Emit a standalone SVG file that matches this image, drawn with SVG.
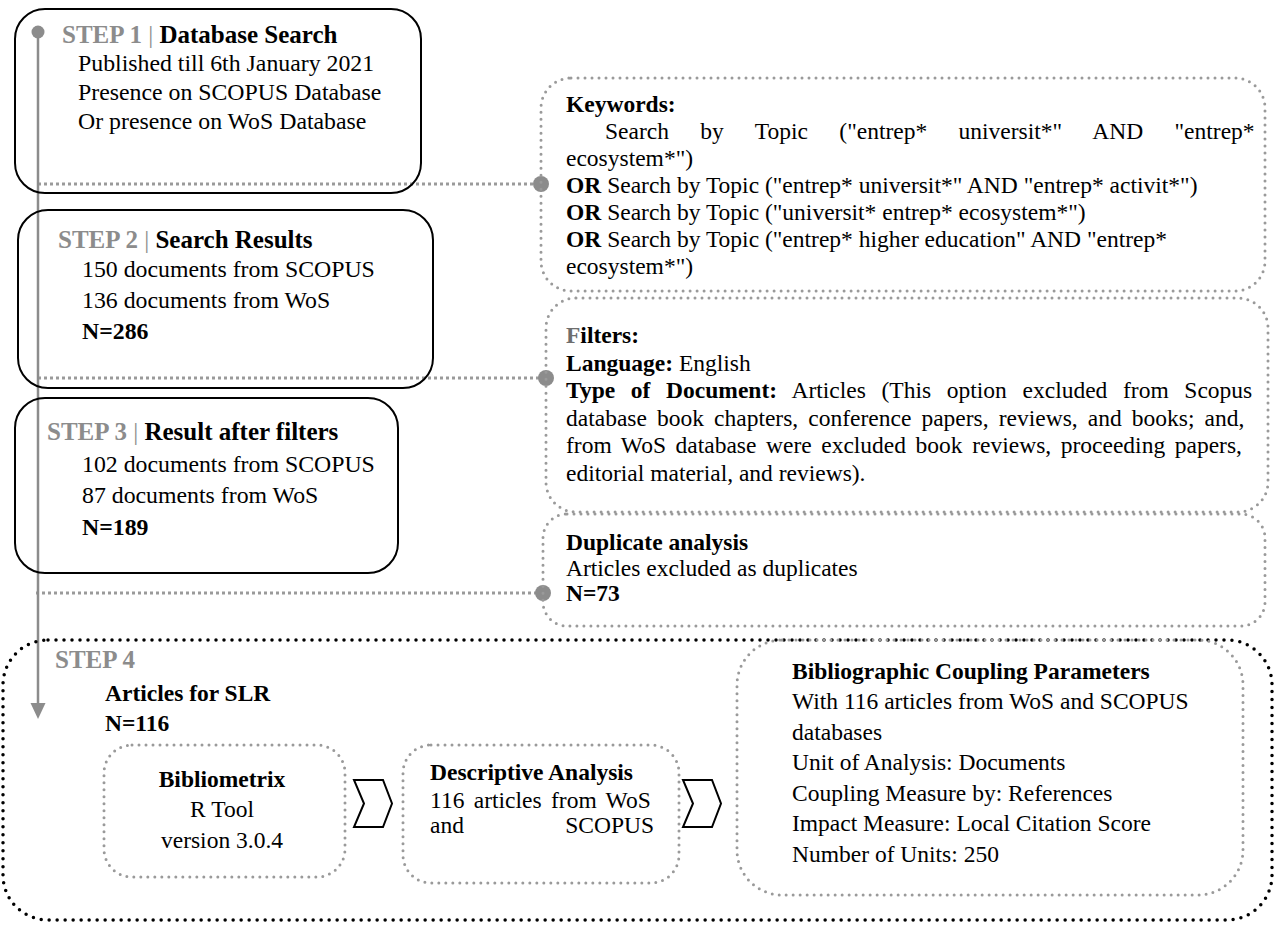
<svg xmlns="http://www.w3.org/2000/svg" width="1275" height="926" viewBox="0 0 1275 926">
  <style>
    text { font-family: "Liberation Serif", "Times New Roman", serif; fill: #000; }
    .body { font-size: 23.8px; }
    .rbody { font-size: 23.5px; }
    .title { font-size: 25px; }
    .step { font-weight: bold; fill: #8c8c8c; }
    .bar { font-weight: normal; fill: #8c8c8c; }
    .b { font-weight: bold; }
    .solid { fill: none; stroke: #000; stroke-width: 2; }
    .gdot { fill: none; stroke: #9a9a9a; stroke-width: 3; stroke-linecap: round; stroke-dasharray: 0 7; }
    .kdot { fill: none; stroke: #000; stroke-width: 3.5; stroke-linecap: round; stroke-dasharray: 0 8; }
    .link { fill: none; stroke: #9a9a9a; stroke-width: 3; stroke-dasharray: 3 3; }
    .spine { fill: none; stroke: #8c8c8c; stroke-width: 2.5; }
    .knob { fill: #8c8c8c; }
    .chev { fill: #fff; stroke: #000; stroke-width: 2; stroke-linejoin: miter; }
  </style>

  <!-- connectors: timeline spine and dotted links to the side panels -->
  <g id="connectors">
    <line class="link" x1="38" y1="184" x2="541" y2="184"/>
    <line class="link" x1="38" y1="378" x2="546" y2="378"/>
    <line class="link" x1="36" y1="593" x2="543" y2="593"/>
    <line class="spine" x1="38" y1="32" x2="38" y2="706"/>
    <polygon class="knob" points="30.5,703 45.5,703 38,719"/>
    <circle class="knob" cx="38" cy="32" r="6.5"/>
    <circle class="knob" cx="541" cy="184" r="8"/>
    <circle class="knob" cx="546" cy="378" r="8"/>
    <circle class="knob" cx="543" cy="593" r="8"/>
  </g>

  <!-- step 1 -->
  <g id="step1">
    <rect class="solid" x="15" y="9" width="406" height="184" rx="30"/>
    <text class="title" x="62" y="43"><tspan class="step">STEP 1 </tspan><tspan class="bar">| </tspan><tspan class="b">Database Search</tspan></text>
    <text class="body" x="78" y="71">Published till 6th January 2021</text>
    <text class="body" x="78" y="100">Presence on SCOPUS Database</text>
    <text class="body" x="78" y="129">Or presence on WoS Database</text>
  </g>

  <!-- step 2 -->
  <g id="step2">
    <rect class="solid" x="18" y="210" width="415" height="178" rx="30"/>
    <text class="title" x="58" y="248"><tspan class="step">STEP 2 </tspan><tspan class="bar">| </tspan><tspan class="b">Search Results</tspan></text>
    <text class="body" x="82" y="277">150 documents from SCOPUS</text>
    <text class="body" x="82" y="308">136 documents from WoS</text>
    <text class="body b" x="82" y="339">N=286</text>
  </g>

  <!-- step 3 -->
  <g id="step3">
    <rect class="solid" x="15" y="398" width="383" height="175" rx="30"/>
    <text class="title" x="47" y="440"><tspan class="step">STEP 3 </tspan><tspan class="bar">| </tspan><tspan class="b">Result after filters</tspan></text>
    <text class="body" x="82" y="472">102 documents from SCOPUS</text>
    <text class="body" x="82" y="503">87 documents from WoS</text>
    <text class="body b" x="82" y="535">N=189</text>
  </g>

  <!-- keywords panel -->
  <g id="keywords">
    <rect class="gdot" x="541" y="78" width="724" height="213" rx="30"/>
    <text class="rbody b" x="566" y="112">Keywords:</text>
    <text class="rbody" x="605" y="139" word-spacing="25.5">Search by Topic ("entrep* universit*" AND "entrep*</text>
    <text class="rbody" x="566" y="166">ecosystem*")</text>
    <text class="rbody" x="566" y="193"><tspan class="b">OR</tspan> Search by Topic ("entrep* universit*" AND "entrep* activit*")</text>
    <text class="rbody" x="566" y="220"><tspan class="b">OR</tspan> Search by Topic ("universit* entrep* ecosystem*")</text>
    <text class="rbody" x="566" y="247"><tspan class="b">OR</tspan> Search by Topic ("entrep* higher education" AND "entrep*</text>
    <text class="rbody" x="566" y="274">ecosystem*")</text>
  </g>

  <!-- filters panel -->
  <g id="filters">
    <rect class="gdot" x="546" y="298" width="722" height="214" rx="30"/>
    <text class="rbody b" x="566" y="343"><tspan fill="#6e6e6e">F</tspan>ilters:</text>
    <text class="rbody" x="566" y="371"><tspan class="b">Language:</tspan> English</text>
    <text class="rbody" x="566" y="398" word-spacing="9.8"><tspan class="b">Type of Document:</tspan> Articles (This option excluded from Scopus</text>
    <text class="rbody" x="566" y="426" word-spacing="4.2">database book chapters, conference papers, reviews, and books; and,</text>
    <text class="rbody" x="566" y="453" word-spacing="3.7">from WoS database were excluded book reviews, proceeding papers,</text>
    <text class="rbody" x="566" y="481">editorial material, and reviews).</text>
  </g>

  <!-- duplicates panel -->
  <g id="duplicates">
    <rect class="gdot" x="543" y="514" width="722" height="112" rx="24"/>
    <text class="rbody b" x="566" y="550">Duplicate analysis</text>
    <text class="rbody" x="566" y="576">Articles excluded as duplicates</text>
    <text class="rbody b" x="566" y="601">N=73</text>
  </g>

  <!-- step 4 frame -->
  <g id="step4">
    <rect class="kdot" x="3" y="640" width="1269" height="280" rx="45"/>
    <text class="title step" x="55" y="668">STEP 4</text>
    <text class="rbody b" x="105" y="701">Articles for SLR</text>
    <text class="rbody b" x="105" y="731">N=116</text>
  </g>

  <!-- bibliometrix tool -->
  <g id="bibliometrix">
    <rect class="gdot" x="104" y="745" width="241" height="132" rx="28"/>
    <text class="rbody b" x="222" y="787" text-anchor="middle">Bibliometrix</text>
    <text class="rbody" x="222" y="817" text-anchor="middle">R Tool</text>
    <text class="rbody" x="222" y="848" text-anchor="middle">version 3.0.4</text>
  </g>

  <polygon id="chevron1" class="chev" points="354,780 383,780 392,803.5 383,827 354,827 364,803.5"/>

  <!-- descriptive analysis -->
  <g id="descriptive">
    <rect class="gdot" x="403" y="745" width="276" height="138" rx="28"/>
    <text class="rbody b" x="430" y="780">Descriptive Analysis</text>
    <text class="rbody" x="430" y="808" word-spacing="3.5">116 articles from WoS</text>
    <text class="rbody" x="430" y="833">and</text>
    <text class="rbody" x="654" y="833" text-anchor="end">SCOPUS</text>
  </g>

  <polygon id="chevron2" class="chev" points="683,780 712,780 721,803.5 712,827 683,827 693,803.5"/>

  <!-- bibliographic coupling parameters -->
  <g id="coupling">
    <rect class="gdot" x="737" y="640" width="506" height="255" rx="45"/>
    <text class="rbody b" x="792" y="679">Bibliographic Coupling Parameters</text>
    <text class="rbody" x="792" y="709">With 116 articles from WoS and SCOPUS</text>
    <text class="rbody" x="792" y="740">databases</text>
    <text class="rbody" x="792" y="770">Unit of Analysis: Documents</text>
    <text class="rbody" x="792" y="801">Coupling Measure by: References</text>
    <text class="rbody" x="792" y="831">Impact Measure: Local Citation Score</text>
    <text class="rbody" x="792" y="862">Number of Units: 250</text>
  </g>
</svg>
